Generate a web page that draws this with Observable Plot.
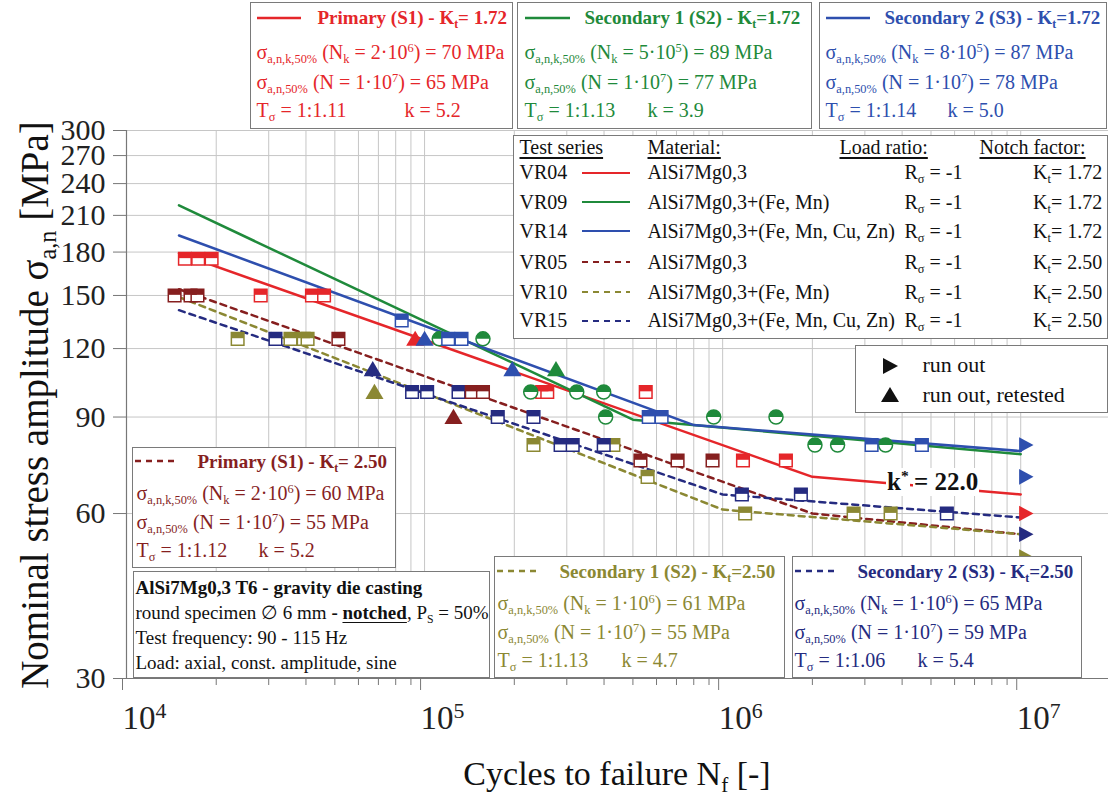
<!DOCTYPE html>
<html><head><meta charset="utf-8">
<script src="https://cdn.jsdelivr.net/npm/d3@7"></script>
<script src="https://cdn.jsdelivr.net/npm/@observablehq/plot@0.6"></script>
<style>
html,body{margin:0;padding:0;background:#fff;}
#wrap{position:relative;width:1108px;height:804px;overflow:hidden;font-family:"Liberation Serif","Times New Roman",serif;color:#111;}
#chart{position:absolute;left:0;top:0;}
.box{position:absolute;background:#fff;border:1.5px solid #7a7a7a;box-sizing:border-box;}
.ln{position:absolute;white-space:nowrap;font-size:20px;line-height:24px;}
.ln.b{font-size:19px;}
.lg .ln{font-size:20px;line-height:25px;}
.b{font-weight:bold;}
.ln sub,.t sub{font-size:0.62em;vertical-align:-0.35em;line-height:0;}
.ln sup,.t sup{font-size:0.62em;vertical-align:0.6em;line-height:0;}
.smp{position:absolute;}
.u{text-decoration:underline;text-underline-offset:3px;}
.t{position:absolute;white-space:nowrap;}
</style></head><body>
<div id="wrap">
 <div id="chart"></div>

 <!-- top boxes (Kt = 1.72) -->
 <div class="box" style="left:250px;top:2px;width:263px;height:127px;color:#e5262a">
  <svg class="smp" style="left:5.5px;top:11.5px" width="44" height="6"><line x1="0" y1="3" x2="44" y2="3" stroke="#e5262a" stroke-width="2.5"/></svg>
  <div class="ln b" style="left:66.5px;top:2.5px">Primary (S1) - K<sub>t</sub>= 1.72</div>
  <div class="ln" style="left:5.5px;top:36.5px">σ<sub>a,n,k,50%</sub> (N<sub>k</sub> = 2·10<sup>6</sup>) = 70 MPa</div>
  <div class="ln" style="left:5.5px;top:66.5px">σ<sub>a,n,50%</sub> (N = 1·10<sup>7</sup>) = 65 MPa</div>
  <div class="ln" style="left:5.5px;top:94.5px">T<sub>σ</sub> = 1:1.11</div>
  <div class="ln" style="left:153.5px;top:94.5px">k = 5.2</div>
 </div>
 <div class="box" style="left:517px;top:2px;width:295px;height:127px;color:#1f8a3b">
  <svg class="smp" style="left:6.5px;top:11.5px" width="45" height="6"><line x1="0" y1="3" x2="45" y2="3" stroke="#1f8a3b" stroke-width="2.5"/></svg>
  <div class="ln b" style="left:66.5px;top:2.5px">Secondary 1 (S2) - K<sub>t</sub>=1.72</div>
  <div class="ln" style="left:6.5px;top:36.5px">σ<sub>a,n,k,50%</sub> (N<sub>k</sub> = 5·10<sup>5</sup>) = 89 MPa</div>
  <div class="ln" style="left:6.5px;top:66.5px">σ<sub>a,n,50%</sub> (N = 1·10<sup>7</sup>) = 77 MPa</div>
  <div class="ln" style="left:6.5px;top:94.5px">T<sub>σ</sub> = 1:1.13</div>
  <div class="ln" style="left:129.5px;top:94.5px">k = 3.9</div>
 </div>
 <div class="box" style="left:819px;top:2px;width:288px;height:127px;color:#2e4fae">
  <svg class="smp" style="left:5.5px;top:11.5px" width="44" height="6"><line x1="0" y1="3" x2="44" y2="3" stroke="#2e4fae" stroke-width="2.5"/></svg>
  <div class="ln b" style="left:64.5px;top:2.5px">Secondary 2 (S3) - K<sub>t</sub>=1.72</div>
  <div class="ln" style="left:5.5px;top:36.5px">σ<sub>a,n,k,50%</sub> (N<sub>k</sub> = 8·10<sup>5</sup>) = 87 MPa</div>
  <div class="ln" style="left:5.5px;top:66.5px">σ<sub>a,n,50%</sub> (N = 1·10<sup>7</sup>) = 78 MPa</div>
  <div class="ln" style="left:5.5px;top:94.5px">T<sub>σ</sub> = 1:1.14</div>
  <div class="ln" style="left:127.5px;top:94.5px">k = 5.0</div>
 </div>

 <!-- legend box -->
 <div class="box lg" id="legend" style="left:513px;top:135px;width:595px;height:204px;"></div>

 <!-- run out box -->
 <div class="box" style="left:855px;top:345px;width:253px;height:68px;">
  <svg class="smp" style="left:24px;top:10px" width="20" height="50">
   <polygon points="3,2 18,10 3,18" fill="#111"/>
   <polygon points="10,31 19,46 1,46" fill="#111"/>
  </svg>
  <div class="ln" style="left:66.5px;top:5.5px;font-size:22px;line-height:26px">run out</div>
  <div class="ln" style="left:66.5px;top:35.5px;font-size:22px;line-height:26px">run out, retested</div>
 </div>

 <!-- lower boxes (Kt = 2.50) -->
 <div class="box" style="left:132px;top:447px;width:264px;height:121px;color:#861f1f">
  <svg class="smp" style="left:1.5px;top:9.5px" width="40" height="6"><line x1="0" y1="3" x2="40" y2="3" stroke="#861f1f" stroke-width="2.5" stroke-dasharray="6,5"/></svg>
  <div class="ln b" style="left:64.5px;top:1.5px">Primary (S1) - K<sub>t</sub>= 2.50</div>
  <div class="ln" style="left:3.5px;top:32.5px">σ<sub>a,n,k,50%</sub> (N<sub>k</sub> = 2·10<sup>6</sup>) = 60 MPa</div>
  <div class="ln" style="left:3.5px;top:61.5px">σ<sub>a,n,50%</sub> (N = 1·10<sup>7</sup>) = 55 MPa</div>
  <div class="ln" style="left:3.5px;top:89.5px">T<sub>σ</sub> = 1:1.12</div>
  <div class="ln" style="left:125.5px;top:89.5px">k = 5.2</div>
 </div>
 <div class="box" style="left:133px;top:571px;width:357px;height:107px;color:#111">
  <div class="ln" style="left:1.5px;top:3.5px;font-size:19px;font-weight:bold">AlSi7Mg0,3 T6 - gravity die casting</div>
  <div class="ln" style="left:1.5px;top:28.5px;font-size:19px">round specimen ∅ 6 mm <b>- <span class="u">notched</span></b>, P<sub>S</sub> = 50%</div>
  <div class="ln" style="left:1.5px;top:53.5px;font-size:19px">Test frequency: 90 - 115 Hz</div>
  <div class="ln" style="left:1.5px;top:78.5px;font-size:19px">Load: axial, const. amplitude, sine</div>
 </div>
 <div class="box" style="left:494px;top:556px;width:291px;height:122px;color:#8b8833">
  <svg class="smp" style="left:1.5px;top:10.5px" width="40" height="6"><line x1="0" y1="3" x2="40" y2="3" stroke="#8b8833" stroke-width="2.5" stroke-dasharray="6,5"/></svg>
  <div class="ln b" style="left:64.5px;top:2.5px">Secondary 1 (S2) - K<sub>t</sub>=2.50</div>
  <div class="ln" style="left:2.5px;top:33.5px">σ<sub>a,n,k,50%</sub> (N<sub>k</sub> = 1·10<sup>6</sup>) = 61 MPa</div>
  <div class="ln" style="left:2.5px;top:62.5px">σ<sub>a,n,50%</sub> (N = 1·10<sup>7</sup>) = 55 MPa</div>
  <div class="ln" style="left:2.5px;top:90.5px">T<sub>σ</sub> = 1:1.13</div>
  <div class="ln" style="left:126.5px;top:90.5px">k = 4.7</div>
 </div>
 <div class="box" style="left:792px;top:556px;width:290px;height:122px;color:#252b80">
  <svg class="smp" style="left:1.5px;top:10.5px" width="40" height="6"><line x1="0" y1="3" x2="40" y2="3" stroke="#252b80" stroke-width="2.5" stroke-dasharray="6,5"/></svg>
  <div class="ln b" style="left:64.5px;top:2.5px">Secondary 2 (S3) - K<sub>t</sub>=2.50</div>
  <div class="ln" style="left:1.5px;top:33.5px">σ<sub>a,n,k,50%</sub> (N<sub>k</sub> = 1·10<sup>6</sup>) = 65 MPa</div>
  <div class="ln" style="left:1.5px;top:62.5px">σ<sub>a,n,50%</sub> (N = 1·10<sup>7</sup>) = 59 MPa</div>
  <div class="ln" style="left:1.5px;top:90.5px">T<sub>σ</sub> = 1:1.06</div>
  <div class="ln" style="left:124.5px;top:90.5px">k = 5.4</div>
 </div>

 <!-- k* annotation -->
 <div class="t b" style="left:886px;top:468px;font-size:25px;line-height:28px;background:#fff;padding:0 1px;font-weight:bold">k<sup>*</sup></div>
 <div class="t b" style="left:913px;top:468px;font-size:25px;line-height:28px;background:#fff;padding:0 1px;font-weight:bold">= 22.0</div>

 <!-- axis titles -->
 <div class="t" style="left:417px;top:754px;width:400px;text-align:center;font-size:34px;line-height:40px">Cycles to failure N<sub>f</sub> [-]</div>
 <div class="t" style="left:-315px;top:385px;width:700px;text-align:center;font-size:39px;line-height:40px;transform:rotate(-90deg);transform-origin:50% 50%">Nominal stress amplitude σ<sub>a,n</sub> [MPa]</div>
</div>

<script>
// ---------- data ----------
const seriesNames = ["VR04", "VR09", "VR14", "VR05", "VR10", "VR15"];
const seriesColors = ["#e5262a", "#1f8a3b", "#2e4fae", "#861f1f", "#8b8833", "#252b80"];
const seriesMaterials = ["AlSi7Mg0,3", "AlSi7Mg0,3+(Fe, Mn)", "AlSi7Mg0,3+(Fe, Mn, Cu, Zn)", "AlSi7Mg0,3", "AlSi7Mg0,3+(Fe, Mn)", "AlSi7Mg0,3+(Fe, Mn, Cu, Zn)"];
const seriesLoadRatio = ["-1", "-1", "-1", "-1", "-1", "-1"];
const seriesNotch = ["1.72", "1.72", "1.72", "2.50", "2.50", "2.50"];
const seriesDashed = [false, false, false, true, true, true];

const yTickValues = [30, 60, 90, 120, 150, 180, 210, 240, 270, 300];
const xMajorTicks = [1e4, 1e5, 1e6, 1e7];
const xMinorTicks = [2e4, 3e4, 4e4, 5e4, 6e4, 7e4, 8e4, 9e4, 2e5, 3e5, 4e5, 5e5, 6e5, 7e5, 8e5, 9e5, 2e6, 3e6, 4e6, 5e6, 6e6, 7e6, 8e6, 9e6];

// S-N curves: [cycles, stress amplitude MPa]
const vr04Fit = [[1.5e4, 179], [2e6, 70], [1e7, 65]];
const vr09Fit = [[1.5e4, 219], [5e5, 89], [1e7, 77]];
const vr14Fit = [[1.5e4, 193], [8e5, 87], [1e7, 78]];
const vr05Fit = [[1.5e4, 154], [2e6, 60], [1e7, 55]];
const vr10Fit = [[1.5e4, 149], [1e6, 61], [1e7, 55]];
const vr15Fit = [[1.5e4, 141], [1e6, 65], [1e7, 59]];

// failures
const vr04Broken = [[1.57e4, 175], [1.74e4, 175], [1.93e4, 175], [2.82e4, 150], [4.19e4, 150], [4.6e4, 150], [2.48e5, 100], [2.58e5, 100], [5.52e5, 100], [1.17e6, 75], [1.63e6, 75]];
const vr09Broken = [[1.12e5, 125], [1.57e5, 125], [2.27e5, 100], [3.24e5, 100], [3.99e5, 100], [4.05e5, 90], [9.33e5, 90], [1.51e6, 90], [2.04e6, 80], [2.43e6, 80], [3.52e6, 80]];
const vr14Broken = [[8.38e4, 135], [1.2e5, 125], [1.33e5, 125], [5.65e5, 90], [6.24e5, 90], [3.16e6, 80], [4.66e6, 80]];
const vr05Broken = [[1.45e4, 150], [1.64e4, 150], [1.73e4, 150], [5.14e4, 125], [1.44e5, 100], [1.57e5, 100], [5.3e5, 75], [7.06e5, 75], [9.25e5, 75]];
const vr10Broken = [[2.36e4, 125], [3.55e4, 125], [3.93e4, 125], [4.05e4, 125], [2.32e5, 80], [4.3e5, 80], [5.6e5, 70], [1.19e6, 60], [2.75e6, 60], [3.66e6, 60]];
const vr15Broken = [[3.16e4, 125], [9.08e4, 100], [1.02e5, 100], [1.3e5, 100], [1.76e5, 90], [2.32e5, 90], [2.86e5, 80], [3.14e5, 80], [3.99e5, 80], [1.16e6, 65], [1.83e6, 65], [5.65e6, 60]];

// run outs
const vr04Runout = [[1e7, 60]];
const vr09Runout = [];
const vr14Runout = [[1e7, 80], [1e7, 70]];
const vr05Runout = [];
const vr10Runout = [[1e7, 50]];
const vr15Runout = [[1e7, 55]];

// run outs, retested
const vr04Retested = [[9.3e4, 125]];
const vr09Retested = [[2.76e5, 110]];
const vr14Retested = [[1e5, 125], [1.97e5, 110]];
const vr05Retested = [[1.25e5, 90]];
const vr10Retested = [[6.79e4, 100]];
const vr15Retested = [[6.7e4, 110]];

// ---------- tables ----------
const fits = {VR04: vr04Fit, VR09: vr09Fit, VR14: vr14Fit, VR05: vr05Fit, VR10: vr10Fit, VR15: vr15Fit};
const broken = {VR04: vr04Broken, VR09: vr09Broken, VR14: vr14Broken, VR05: vr05Broken, VR10: vr10Broken, VR15: vr15Broken};
const runouts = {VR04: vr04Runout, VR09: vr09Runout, VR14: vr14Runout, VR05: vr05Runout, VR10: vr10Runout, VR15: vr15Runout};
const retested = {VR04: vr04Retested, VR09: vr09Retested, VR14: vr14Retested, VR05: vr05Retested, VR10: vr10Retested, VR15: vr15Retested};
const rows = (s, arr) => arr.map(([N, S]) => ({series: s, N, S}));

// ---------- symbols ----------
const rad = size => Math.sqrt(size / Math.PI);
const sqFull = {draw(c, size) { const s = rad(size); c.rect(-s, -s, 2 * s, 2 * s); }};
const sqTop = {draw(c, size) { const s = rad(size); c.rect(-s, -s, 2 * s, s * 0.9); }};
const circTop = {draw(c, size) { const s = rad(size); c.moveTo(-s, 0); c.arc(0, 0, s, Math.PI, 2 * Math.PI); c.closePath(); }};
const triRight = {draw(c, size) { const s = rad(size); c.moveTo(-0.85 * s, -s); c.lineTo(s, 0); c.lineTo(-0.85 * s, s); c.closePath(); }};
const triUp = {draw(c, size) { const s = rad(size); c.moveTo(0, -s); c.lineTo(1.1 * s, 0.85 * s); c.lineTo(-1.1 * s, 0.85 * s); c.closePath(); }};

const marks = [
  Plot.gridX({ticks: xMinorTicks.concat(xMajorTicks), stroke: "#c6c6c6", strokeOpacity: 1, strokeWidth: 1}),
  Plot.gridY({ticks: yTickValues, stroke: "#c6c6c6", strokeOpacity: 1, strokeWidth: 1}),
  Plot.axisY({ticks: yTickValues, tickSize: 13, tickPadding: 8, fontSize: 30, label: null, stroke: "#777", fill: "#222", tickFormat: d => String(d)}),
  Plot.axisX({ticks: xMajorTicks, tickSize: 12, tickPadding: 15, fontSize: 33, label: null, stroke: "#777", fill: "#222", textAnchor: "start", dx: -4, tickFormat: d => String(Math.round(Math.log10(d)))}),
  Plot.axisX({ticks: xMinorTicks, tickSize: 7, label: null, stroke: "#777", tickFormat: () => ""}),
  Plot.ruleX([1e4], {stroke: "#777", strokeWidth: 1.2}),
  Plot.ruleY([30], {stroke: "#777", strokeWidth: 1.2})
];

// curves
seriesNames.forEach((s, i) => {
  marks.push(Plot.line(rows(s, fits[s]), {x: "N", y: "S", stroke: "series", strokeWidth: 2.5,
    strokeDasharray: seriesDashed[i] ? "6,5" : null, curve: "linear"}));
});

// markers, drawn series by series
const drawOrder = ["VR10", "VR15", "VR05", "VR04", "VR09", "VR14"];
drawOrder.forEach(s => {
  const b = rows(s, broken[s]);
  if (s === "VR09") {
    marks.push(Plot.dot(b, {x: "N", y: "S", symbol: "circle", r: 7, fill: "white", stroke: "series", strokeWidth: 1.5}));
    marks.push(Plot.dot(b, {x: "N", y: "S", symbol: circTop, r: 7, fill: "series"}));
  } else {
    marks.push(Plot.dot(b, {x: "N", y: "S", symbol: sqFull, r: 6.3, fill: "white", stroke: "series", strokeWidth: 1.5}));
    marks.push(Plot.dot(b, {x: "N", y: "S", symbol: sqTop, r: 6.3, fill: "series"}));
  }
  marks.push(Plot.dot(rows(s, retested[s]), {x: "N", y: "S", symbol: triUp, r: 8.2, fill: "series"}));
  marks.push(Plot.dot(rows(s, runouts[s]), {x: "N", y: "S", symbol: triRight, r: 7.8, fill: "series", dx: 5}));
});

const chart = Plot.plot({
  width: 1108, height: 804,
  marginLeft: 126, marginRight: 0, marginTop: 130, marginBottom: 126,
  style: {fontFamily: '"Liberation Serif", "Times New Roman", serif', background: "transparent", overflow: "visible", color: "#222"},
  x: {type: "log", domain: [1e4, 1.97e7]},
  y: {type: "log", domain: [30, 300]},
  color: {domain: seriesNames, range: seriesColors},
  marks
});
document.getElementById("chart").appendChild(chart);

// superscript powers of ten on the major x tick labels
d3.select(chart).selectAll('g[aria-label="x-axis tick label"] text').each(function() {
  const e = this.textContent;
  if (!e) return;
  const t = d3.select(this);
  t.text("");
  t.append("tspan").text("10");
  t.append("tspan").attr("dy", "-0.5em").attr("font-size", "0.66em").text(e);
});

// legend table
const lg = document.getElementById("legend");
const rowCenters = [24.3, 53.7, 82.7, 113.7, 143.7, 172];
let html = '<div class="ln u" style="left:5.5px;top:-1px">Test series</div>' +
  '<div class="ln u" style="left:133.5px;top:-1px">Material:</div>' +
  '<div class="ln u" style="left:325.5px;top:-1px">Load ratio:</div>' +
  '<div class="ln u" style="left:465.5px;top:-1px">Notch factor:</div>';
seriesNames.forEach((s, i) => {
  const top = rowCenters[i];
  html += `<div class="ln" style="left:5.5px;top:${top}px">${s}</div>` +
    `<svg class="smp" style="left:67.5px;top:${top + 9.5}px" width="48" height="6"><line x1="0" y1="3" x2="48" y2="3" stroke="${seriesColors[i]}" stroke-width="2.2" ${seriesDashed[i] ? 'stroke-dasharray="6,5"' : ''}/></svg>` +
    `<div class="ln" style="left:133.5px;top:${top}px">${seriesMaterials[i]}</div>` +
    `<div class="ln" style="left:390.5px;top:${top}px">R<sub>σ</sub> = ${seriesLoadRatio[i]}</div>` +
    `<div class="ln" style="left:519px;top:${top}px">K<sub>t</sub>= ${seriesNotch[i]}</div>`;
});
lg.innerHTML = html;
</script>
</body></html>
